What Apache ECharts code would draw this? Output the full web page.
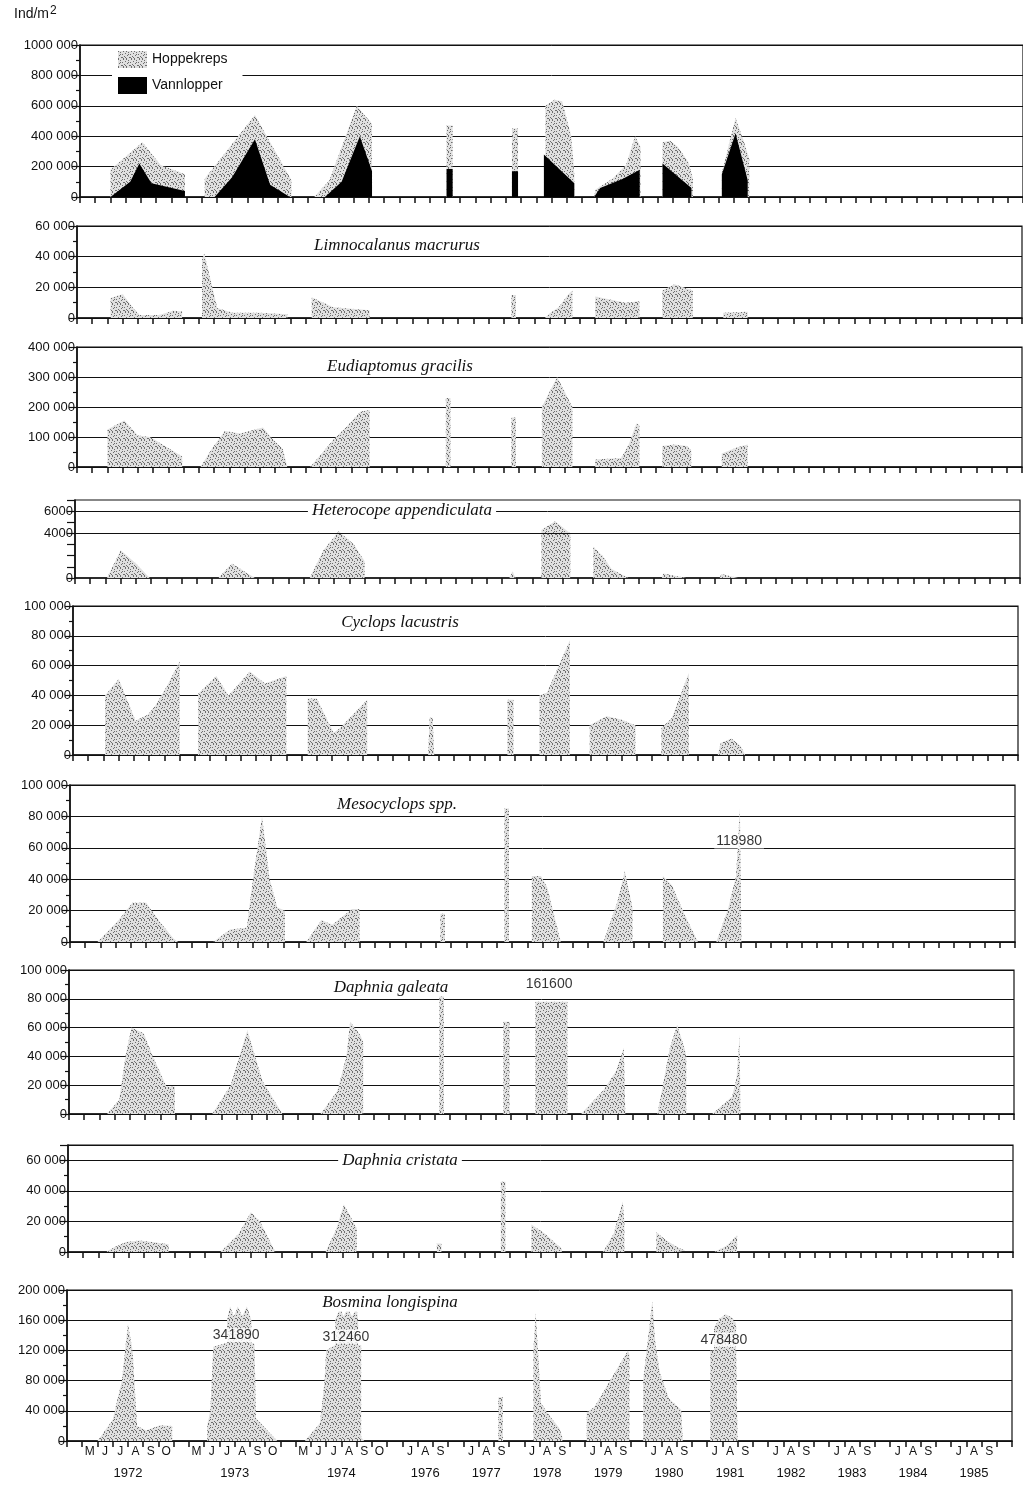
<!DOCTYPE html>
<html>
<head>
<meta charset="utf-8">
<title>Ind/m2 zooplankton 1972-1985</title>
<script src="https://cdn.jsdelivr.net/npm/echarts@6/dist/echarts.min.js"></script>
<style>
  html, body { margin: 0; padding: 0; background: #fff; }
  #chart { width: 1023px; height: 1487px; }
</style>
</head>
<body>
<div id="chart"></div>
<script>
// time axis: one slot per month, an empty slot before/between the sampling seasons
const yearGroups = [
  ['1972', ['M', 'J', 'J', 'A', 'S', 'O']],
  ['1973', ['M', 'J', 'J', 'A', 'S', 'O']],
  ['1974', ['M', 'J', 'J', 'A', 'S', 'O']],
  ['1976', ['J', 'A', 'S']],
  ['1977', ['J', 'A', 'S']],
  ['1978', ['J', 'A', 'S']],
  ['1979', ['J', 'A', 'S']],
  ['1980', ['J', 'A', 'S']],
  ['1981', ['J', 'A', 'S']],
  ['1982', ['J', 'A', 'S']],
  ['1983', ['J', 'A', 'S']],
  ['1984', ['J', 'A', 'S']],
  ['1985', ['J', 'A', 'S']],
]

// Ind/m2, pieces of [slot position, value], one piece per season
const hoppekreps = [
  [[2.0, 0], [2.0, 180000], [4.1, 360000], [5.3, 210000], [6.9, 150000], [6.9, 0]],
  [[8.2, 0], [8.2, 120000], [11.5, 540000], [13.9, 110000], [13.9, 0]],
  [[15.4, 0], [16.4, 110000], [18.2, 600000], [19.2, 480000], [19.2, 0]],
  [[24.1, 0], [24.1, 470000], [24.5, 470000], [24.5, 0]],
  [[28.4, 0], [28.4, 450000], [28.8, 450000], [28.8, 0]],
  [[30.6, 0], [30.6, 600000], [31.2, 640000], [31.7, 630000], [32.3, 400000], [32.5, 150000], [32.5, 0]],
  [[33.8, 0], [33.9, 50000], [35.0, 120000], [35.9, 210000], [36.5, 400000], [36.85, 330000], [36.85, 0]],
  [[38.3, 0], [38.3, 360000], [38.8, 370000], [39.3, 330000], [40.0, 230000], [40.3, 120000], [40.3, 0]],
  [[42.2, 0], [42.2, 160000], [43.1, 520000], [43.6, 380000], [44.0, 250000], [44.0, 0]],
]
const vannlopper = [
  [[2.0, 0], [3.3, 100000], [3.9, 220000], [4.7, 90000], [6.9, 40000], [6.9, 0]],
  [[8.85, 0], [10.0, 130000], [11.5, 380000], [12.5, 80000], [13.8, 0]],
  [[16.1, 0], [17.2, 100000], [18.4, 400000], [19.2, 170000], [19.2, 0]],
  [[24.1, 0], [24.1, 185000], [24.5, 185000], [24.5, 0]],
  [[28.4, 0], [28.4, 170000], [28.8, 170000], [28.8, 0]],
  [[30.5, 0], [30.5, 280000], [32.5, 90000], [32.5, 0]],
  [[33.8, 0], [34.2, 60000], [35.7, 120000], [36.8, 180000], [36.8, 0]],
  [[38.3, 0], [38.3, 220000], [40.2, 60000], [40.2, 0]],
  [[42.2, 0], [42.2, 150000], [43.1, 420000], [43.9, 110000], [43.9, 0]],
]
const limnocalanus = [
  [[2.2, 0], [2.2, 13000], [3.0, 15500], [3.8, 5000], [4.1, 2000], [5.4, 2000], [6.3, 4700], [6.9, 4300], [6.9, 0]],
  [[8.2, 0], [8.2, 38000], [8.35, 42000], [8.9, 19000], [9.2, 6500], [10.2, 3500], [12.0, 3500], [13.8, 2500], [13.8, 0]],
  [[15.4, 0], [15.4, 13500], [16.8, 7000], [19.2, 5000], [19.2, 0]],
  [[28.5, 0], [28.5, 15000], [28.8, 15000], [28.8, 0]],
  [[30.7, 0], [31.0, 3000], [31.6, 7000], [32.2, 15000], [32.5, 18000], [32.5, 0]],
  [[34.0, 0], [34.0, 14000], [36.0, 10000], [36.9, 11000], [36.9, 0]],
  [[38.4, 0], [38.4, 18000], [39.2, 22000], [40.4, 18000], [40.4, 0]],
  [[42.4, 0], [42.4, 3500], [44.0, 4000], [44.0, 0]],
]
const eudiaptomus = [
  [[2.0, 0], [2.0, 125000], [3.1, 155000], [4.0, 105000], [4.8, 100000], [6.9, 35000], [6.9, 0]],
  [[8.1, 0], [8.9, 65000], [9.7, 120000], [10.7, 112000], [12.2, 132000], [12.8, 95000], [13.5, 60000], [13.8, 0]],
  [[15.3, 0], [16.8, 90000], [17.7, 135000], [18.6, 185000], [19.2, 190000], [19.2, 0]],
  [[24.2, 0], [24.2, 230000], [24.5, 230000], [24.5, 0]],
  [[28.5, 0], [28.5, 165000], [28.8, 165000], [28.8, 0]],
  [[30.5, 0], [30.5, 200000], [31.5, 300000], [32.5, 200000], [32.5, 0]],
  [[34.0, 0], [34.0, 25000], [35.7, 30000], [36.2, 75000], [36.7, 145000], [36.9, 140000], [36.9, 0]],
  [[38.4, 0], [38.4, 70000], [39.2, 75000], [40.0, 70000], [40.3, 55000], [40.3, 0]],
  [[42.3, 0], [42.3, 45000], [43.3, 65000], [44.0, 75000], [44.0, 0]],
]
const heterocope = [
  [[2.1, 0], [3.0, 2500], [4.0, 1300], [4.9, 0]],
  [[9.4, 0], [10.3, 1300], [11.8, 0]],
  [[15.4, 0], [16.3, 2500], [17.3, 4200], [18.3, 3000], [19.0, 1500], [19.0, 0]],
  [[28.5, 0], [28.7, 600], [28.9, 0]],
  [[30.6, 0], [30.6, 4300], [31.5, 5100], [32.5, 4000], [32.5, 0]],
  [[34.0, 0], [34.0, 2800], [34.6, 2000], [35.2, 800], [36.3, 0]],
  [[38.5, 0], [38.6, 400], [40.1, 0]],
  [[42.3, 0], [42.4, 350], [43.5, 0]],
]
const cyclops = [
  [[2.1, 0], [2.1, 40000], [3.0, 51000], [4.1, 23000], [4.9, 27000], [5.4, 33000], [6.2, 47000], [7.0, 63000], [7.0, 0]],
  [[8.2, 0], [8.2, 41000], [9.4, 53000], [10.2, 40000], [11.6, 56000], [12.6, 48000], [14.0, 53000], [14.0, 0]],
  [[15.4, 0], [15.4, 38000], [16.0, 38000], [17.1, 15000], [17.5, 18000], [19.3, 37000], [19.3, 0]],
  [[23.3, 0], [23.4, 25000], [23.6, 25000], [23.7, 0]],
  [[28.5, 0], [28.5, 37000], [28.9, 37000], [28.9, 0]],
  [[30.6, 0], [30.6, 40000], [31.1, 42000], [32.6, 77000], [32.6, 0]],
  [[33.9, 0], [33.9, 20000], [35.0, 26000], [35.9, 24000], [36.9, 20000], [36.9, 0]],
  [[38.6, 0], [38.6, 18000], [39.3, 25000], [40.4, 55000], [40.4, 0]],
  [[42.3, 0], [42.5, 8000], [43.2, 11000], [43.8, 6000], [44.1, 0]],
]
const mesocyclops = [
  [[1.8, 0], [3.2, 14000], [4.1, 25000], [5.0, 25000], [5.8, 14000], [6.8, 2000], [7.1, 0]],
  [[9.4, 0], [10.5, 8000], [11.6, 9000], [12.0, 40000], [12.6, 80000], [13.1, 40000], [13.6, 22000], [14.1, 20000], [14.1, 0]],
  [[15.5, 0], [16.5, 14000], [17.2, 11000], [18.5, 21000], [19.0, 21000], [19.0, 0]],
  [[24.3, 0], [24.3, 18000], [24.6, 18000], [24.6, 0]],
  [[28.5, 0], [28.5, 85000], [28.8, 85000], [28.8, 0]],
  [[30.3, 0], [30.3, 42000], [30.9, 42000], [31.3, 35000], [32.2, 0]],
  [[35.0, 0], [35.9, 25000], [36.4, 45000], [36.9, 22000], [36.9, 0]],
  [[38.9, 0], [38.9, 42000], [39.5, 36000], [40.3, 18000], [41.2, 0]],
  [[42.4, 0], [43.2, 22000], [43.7, 42000], [43.95, 85000], [44.05, 85000], [44.05, 0]],
]
const galeata = [
  [[2.5, 0], [3.3, 10000], [3.7, 40000], [4.1, 60000], [4.9, 56000], [5.5, 40000], [6.4, 19000], [6.95, 19000], [6.95, 0]],
  [[9.4, 0], [10.6, 20000], [11.7, 58000], [12.7, 23000], [14.0, 0]],
  [[16.5, 0], [17.6, 16000], [18.2, 40000], [18.45, 64000], [19.1, 55000], [19.3, 50000], [19.3, 0]],
  [[24.3, 0], [24.3, 85000], [24.6, 85000], [24.6, 0]],
  [[28.5, 0], [28.5, 64000], [28.9, 64000], [28.9, 0]],
  [[30.6, 0], [30.6, 78000], [32.7, 78000], [32.7, 0]],
  [[33.6, 0], [35.1, 17000], [35.9, 30000], [36.4, 46000], [36.5, 46000], [36.5, 0]],
  [[38.6, 0], [39.0, 22000], [39.4, 45000], [39.9, 62000], [40.4, 45000], [40.5, 40000], [40.5, 0]],
  [[42.2, 0], [43.5, 12000], [43.8, 25000], [44.0, 55000], [44.05, 0]],
]
const cristata = [
  [[2.5, 0], [3.0, 3000], [3.8, 6500], [4.7, 7500], [5.9, 6000], [6.6, 5000], [6.6, 0]],
  [[10.0, 0], [11.2, 12000], [12.0, 26000], [12.6, 20000], [13.6, 0]],
  [[16.9, 0], [17.6, 15000], [18.1, 31000], [18.6, 22000], [18.95, 15000], [18.95, 0]],
  [[24.2, 0], [24.2, 5500], [24.5, 5500], [24.5, 0]],
  [[28.4, 0], [28.4, 46000], [28.7, 46000], [28.7, 0]],
  [[30.4, 0], [30.4, 18000], [31.3, 12000], [32.4, 2000], [32.4, 0]],
  [[35.1, 0], [35.8, 12000], [36.4, 33000], [36.5, 20000], [36.5, 0]],
  [[38.6, 0], [38.6, 13000], [39.2, 8000], [40.0, 3000], [40.5, 1000], [40.5, 0]],
  [[42.4, 0], [43.2, 4000], [43.9, 11000], [43.9, 0]],
]
const bosmina = [
  [[2.0, 0], [3.0, 28000], [3.6, 80000], [4.0, 155000], [4.3, 120000], [4.6, 20000], [5.2, 14000], [6.1, 21000], [6.9, 20000], [6.9, 0]],
  [[9.2, 0], [9.2, 20000], [9.4, 40000], [9.6, 125000], [10.5, 130000], [10.5, 160000], [10.7, 178000], [10.95, 165000], [11.2, 178000], [11.5, 165000], [11.8, 178000], [12.1, 160000], [12.1, 130000], [12.3, 128000], [12.4, 30000], [13.8, 0]],
  [[15.6, 0], [16.6, 24000], [16.9, 80000], [17.0, 120000], [17.6, 127000], [17.6, 160000], [17.9, 176000], [18.15, 165000], [18.4, 176000], [18.7, 165000], [19.0, 176000], [19.1, 160000], [19.1, 127000], [19.3, 127000], [19.3, 5000], [19.5, 0]],
  [[28.3, 0], [28.3, 58000], [28.6, 58000], [28.6, 0]],
  [[30.6, 0], [30.6, 120000], [30.75, 170000], [30.9, 120000], [31.1, 50000], [31.6, 35000], [32.3, 17000], [32.5, 5000], [32.5, 0]],
  [[34.1, 0], [34.1, 38000], [34.6, 45000], [36.8, 120000], [36.9, 115000], [36.9, 0]],
  [[37.8, 0], [37.8, 80000], [38.2, 150000], [38.4, 185000], [38.6, 130000], [38.9, 90000], [39.5, 56000], [40.3, 41000], [40.4, 40000], [40.4, 0]],
  [[42.2, 0], [42.2, 120000], [42.45, 120000], [42.45, 150000], [42.8, 162000], [43.2, 168000], [43.6, 164000], [43.9, 155000], [43.9, 120000], [44.0, 120000], [44.0, 0]],
]

// peaks that run off the scale, written as numbers on the panel
const offScale = [
  { panel: 5, at: [43.9, 64000], text: '118980' },
  { panel: 6, at: [31.5, 90000], text: '161600' },
  { panel: 8, at: [11.1, 140000], text: '341890' },
  { panel: 8, at: [18.3, 138000], text: '312460' },
  { panel: 8, at: [43.1, 134000], text: '478480' },
]

const panels = [
  { name: 'Hoppekreps', data: hoppekreps, max: 1000000, step: 200000 },
  { name: 'Limnocalanus macrurus', data: limnocalanus, max: 60000, step: 20000 },
  { name: 'Eudiaptomus gracilis', data: eudiaptomus, max: 400000, step: 100000 },
  { name: 'Heterocope appendiculata', data: heterocope, max: 7000, step: 1000, labels: [0, 4000, 6000], lines: [4000, 6000] },
  { name: 'Cyclops lacustris', data: cyclops, max: 100000, step: 20000 },
  { name: 'Mesocyclops spp.', data: mesocyclops, max: 100000, step: 20000 },
  { name: 'Daphnia galeata', data: galeata, max: 100000, step: 20000 },
  { name: 'Daphnia cristata', data: cristata, max: 70000, step: 20000 },
  { name: 'Bosmina longispina', data: bosmina, max: 200000, step: 40000 },
]

// layout (the scan is slightly rotated, so the panels drift to the right going up)
const layout = [
  { top: 45, bottom: 197, left: 80 },
  { top: 226, bottom: 318, left: 77 },
  { top: 347, bottom: 467, left: 77 },
  { top: 500, bottom: 578, left: 75 },
  { top: 606, bottom: 755, left: 73 },
  { top: 785, bottom: 942, left: 70 },
  { top: 970, bottom: 1114, left: 69 },
  { top: 1145, bottom: 1252, left: 68 },
  { top: 1290, bottom: 1441, left: 67 },
]
const titlePos = [null, [397, 246], [400, 367], [402, 511], [400, 623], [397, 805], [391, 988], [400, 1161], [390, 1303]]
const PLOT_WIDTH = 945
const SANS = '"Liberation Sans", Arial, sans-serif'
const SERIF = '"Liberation Serif", "Times New Roman", serif'
const INK = '#111'

// month slots and year label positions
const slotLabels = ['']
const yearAt = {}
yearGroups.forEach(([year, months]) => {
  yearAt[Math.round((slotLabels.length + months.length / 2) * 10)] = year
  slotLabels.push(...months, '')
})
const SLOTS = slotLabels.length
const monthCentres = []
slotLabels.forEach((m, i) => { if (m) monthCentres.push(i + 0.5) })
const yearCentres = Object.keys(yearAt).map((k) => k / 10)

// stippled grey fill, as in the printed figure
function stipple() {
  const c = document.createElement('canvas')
  c.width = 8
  c.height = 8
  const g = c.getContext('2d')
  g.fillStyle = '#e0e0e0'
  g.fillRect(0, 0, 8, 8)
  g.fillStyle = '#6e6e6e'
  ;[[0, 0], [5, 0], [2, 1], [7, 2], [4, 3], [1, 4], [6, 5], [3, 6], [0, 7], [5, 7], [2, 3], [7, 6], [4, 6]]
    .forEach(([x, y]) => g.fillRect(x, y, 1, 1))
  return { image: c, repeat: 'repeat' }
}
const dots = stipple()

function joinPieces(pieces) {
  const out = []
  pieces.forEach((p, i) => {
    if (i) out.push(['-', '-'])
    out.push(...p)
  })
  return out
}

function fmt(v) {
  if (v < 10000) return String(v)
  return Math.floor(v / 1000) + ' ' + String(v % 1000).padStart(3, '0')
}

const grids = []
const xAxes = []
const yAxes = []
const series = []
const last = panels.length - 1

panels.forEach((p, i) => {
  const box = layout[i]
  grids.push({
    left: box.left, top: box.top, width: PLOT_WIDTH, height: box.bottom - box.top,
    show: true, borderColor: INK, borderWidth: 1.2, backgroundColor: 'transparent',
  })
  xAxes.push({
    type: 'value', gridIndex: i, min: 0, max: SLOTS, interval: 1,
    axisLine: { show: true, onZero: false, lineStyle: { color: INK, width: 1.6 } },
    axisTick: { show: true, length: 6, lineStyle: { color: INK, width: 1.5 } },
    axisLabel: i === last
      ? { show: true, customValues: monthCentres, formatter: (v) => slotLabels[Math.floor(v)], fontSize: 12, color: INK, fontFamily: SANS, margin: 5 }
      : { show: false },
    splitLine: { show: false },
  })
  yAxes.push({
    type: 'value', gridIndex: i, min: 0, max: p.max, interval: p.step,
    axisLine: { show: true, lineStyle: { color: INK, width: 1.6 } },
    axisTick: { show: true, length: 8, lineStyle: { color: INK, width: 1.2 } },
    minorTick: { show: !p.labels, splitNumber: 2, length: 4, lineStyle: { color: INK, width: 1.2 } },
    splitLine: { show: !p.lines, lineStyle: { color: INK, width: 1 } },
    axisLabel: {
      fontSize: 13, color: INK, fontFamily: SANS, margin: 2,
      formatter: (v) => {
        if (v % p.step !== 0) return ''
        if (p.labels && p.labels.indexOf(v) < 0) return ''
        return fmt(v)
      },
    },
  })
  const area = {
    name: p.name, type: 'line', xAxisIndex: i, yAxisIndex: i,
    data: joinPieces(p.data), symbol: 'none', connectNulls: false,
    lineStyle: { width: 0 }, itemStyle: { color: '#bdbdbd' },
    areaStyle: { color: dots, opacity: 1 }, silent: true, z: 2,
  }
  if (p.lines) {
    area.markLine = {
      silent: true, symbol: ['none', 'none'], label: { show: false },
      lineStyle: { color: INK, width: 1, type: 'solid' },
      data: p.lines.map((y) => ({ yAxis: y })),
    }
  }
  series.push(area)
})

series.push({
  name: 'Vannlopper', type: 'line', xAxisIndex: 0, yAxisIndex: 0,
  data: joinPieces(vannlopper), symbol: 'none', connectNulls: false,
  lineStyle: { width: 0 }, itemStyle: { color: '#000' },
  areaStyle: { color: '#000', opacity: 1 }, silent: true, z: 3,
})

offScale.forEach((n) => {
  series.push({
    type: 'scatter', xAxisIndex: n.panel, yAxisIndex: n.panel, silent: true, z: 5,
    symbol: 'rect', symbolSize: 1, itemStyle: { color: 'rgba(0,0,0,0)' },
    data: [{ value: n.at, name: n.text }],
    label: {
      show: true, position: 'inside', formatter: (q) => q.name,
      fontSize: 14, color: '#000', fontFamily: SANS,
      backgroundColor: '#fff', padding: [0, 2],
    },
  })
})

// year row under the month letters
xAxes.push({
  type: 'value', gridIndex: last, min: 0, max: SLOTS, position: 'bottom', offset: 21,
  axisLine: { show: false }, axisTick: { show: false }, splitLine: { show: false },
  axisLabel: {
    customValues: yearCentres, formatter: (v) => yearAt[Math.round(v * 10)] || '',
    fontSize: 13, color: INK, fontFamily: SANS, margin: 5,
  },
})

const graphics = [{
  type: 'text', left: 14, top: 5,
  style: {
    text: 'Ind/m{s|2}', fill: INK, font: '14px ' + SANS,
    rich: { s: { fontSize: 12, verticalAlign: 'top', padding: [0, 0, 6, 1] } },
  },
}]
panels.forEach((p, i) => {
  if (!titlePos[i]) return
  graphics.push({
    type: 'text', x: titlePos[i][0], y: titlePos[i][1], z: 10,
    style: {
      text: p.name, fill: INK, font: 'italic 17px ' + SERIF,
      align: 'center', verticalAlign: 'middle',
      backgroundColor: '#fff', padding: [0, 4],
    },
  })
})

const chart = echarts.init(document.getElementById('chart'), null, { renderer: 'canvas' })
chart.setOption({
  animation: false,
  backgroundColor: '#fff',
  legend: {
    data: [
      { name: 'Hoppekreps', itemStyle: { color: dots } },
      { name: 'Vannlopper', itemStyle: { color: '#000' } },
    ],
    orient: 'vertical', left: 112, top: 47, icon: 'rect',
    itemWidth: 29, itemHeight: 17, itemGap: 9,
    backgroundColor: '#fff', padding: [4, 15, 4, 6],
    textStyle: { fontSize: 14, color: INK, fontFamily: SANS },
    selectedMode: false,
  },
  grid: grids,
  xAxis: xAxes,
  yAxis: yAxes,
  series: series,
  graphic: graphics,
})
</script>
</body>
</html>
